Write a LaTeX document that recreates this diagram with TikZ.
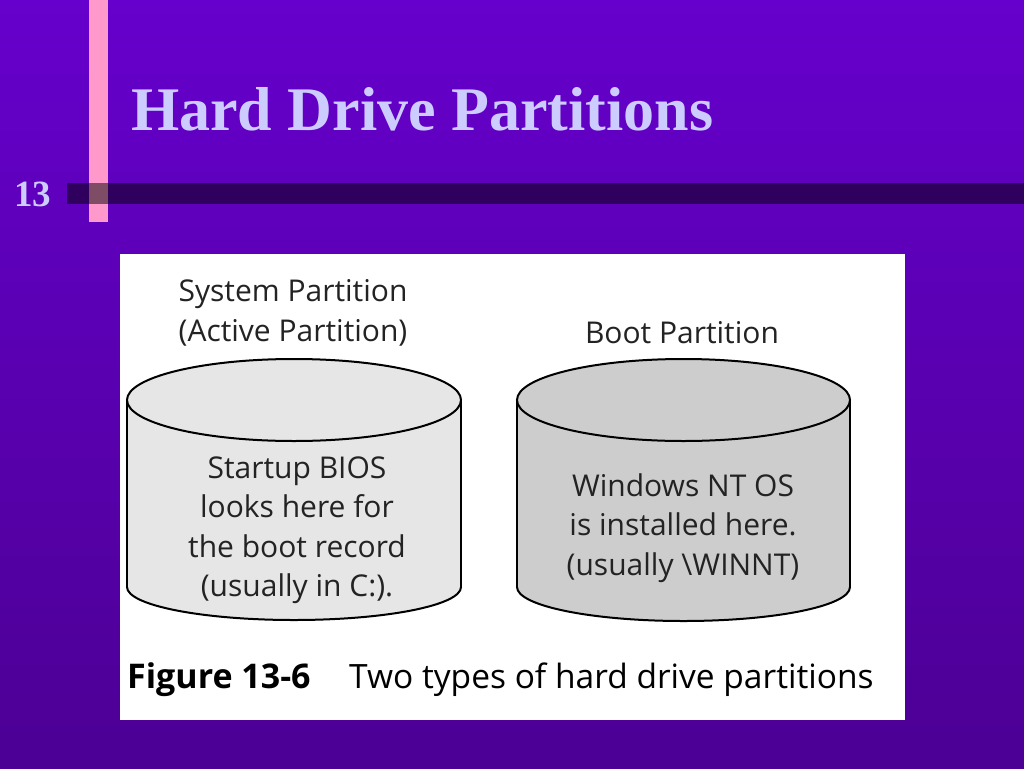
\documentclass[tikz,border=0pt]{standalone}
\usepackage{fontspec}
\setmainfont{Liberation Serif}
\newfontfamily\figfont{Open Sans}
\usetikzlibrary{positioning}
\definecolor{bgtop}{RGB}{102,0,204}
\definecolor{bgbot}{RGB}{76,0,148}
\definecolor{pinkbar}{RGB}{255,153,204}
\definecolor{titlecol}{RGB}{204,204,255}
\definecolor{lightfill}{RGB}{230,230,230}
\definecolor{darkfill}{RGB}{205,205,205}
\definecolor{figtext}{RGB}{35,35,35}
\tikzset{
  titletext/.style={text=titlecol, font=\fontsize{62}{70}\selectfont\bfseries, inner sep=0pt, anchor=base west},
  numtext/.style={text=titlecol, font=\fontsize{37}{40}\selectfont\bfseries, inner sep=0pt, anchor=base west},
  labeltext/.style={text=figtext, font=\figfont\fontsize{30}{39.5}\selectfont, align=center, inner sep=0pt},
  captext/.style={text=black, font=\figfont\fontsize{33.5}{36}\selectfont, inner sep=0pt, anchor=base west},
  capbold/.style={text=black, font=\figfont\fontsize{34}{36}\selectfont\bfseries, inner sep=0pt, anchor=base west},
  cylline/.style={draw=black, line width=2pt},
}
\begin{document}
\begin{tikzpicture}[x=1pt,y=-1pt]
\useasboundingbox (0,0) rectangle (1024,768);
\shade[top color=bgtop, bottom color=bgbot] (0,0) rectangle (1024,768);
% pink bar and dark bar
\fill[pinkbar] (89,0) rectangle (108,222);
\fill[black, opacity=0.5] (67,183) rectangle (1024,204);
\node[numtext] (num) at (14,206) {13};
\node[titletext] (title) at (131,130) {Hard Drive Partitions};
% figure panel
\fill[white] (120,254) rectangle (905,720);
% left cylinder
\fill[lightfill] (127,400) rectangle (461,587);
\fill[lightfill] (294,587) ellipse[x radius=167, y radius=33];
\begin{scope}
\clip (100,587) rectangle (480,640);
\draw[cylline] (294,587) ellipse[x radius=167, y radius=33];
\end{scope}
\draw[cylline] (127,400) -- (127,587);
\draw[cylline] (461,400) -- (461,587);
\draw[cylline, fill=lightfill] (294,400) ellipse[x radius=167, y radius=41];
% right cylinder
\fill[darkfill] (517,400) rectangle (850,587);
\fill[darkfill] (683.5,587) ellipse[x radius=166.5, y radius=34];
\begin{scope}
\clip (490,587) rectangle (880,640);
\draw[cylline] (683.5,587) ellipse[x radius=166.5, y radius=34];
\end{scope}
\draw[cylline] (517,400) -- (517,587);
\draw[cylline] (850,400) -- (850,587);
\draw[cylline, fill=darkfill] (683.5,400) ellipse[x radius=166.5, y radius=41];
% labels
\node[labeltext] (syslabel) at (293,313) {System Partition\\(Active Partition)};
\node[labeltext] (bootlabel) at (682,333) {Boot Partition};
\node[labeltext] (systext) at (297,530) {Startup BIOS\\looks here for\\the boot record\\(usually in C:).};
\node[labeltext] (boottext) at (683,528) {Windows NT OS\\is installed here.\\(usually \textbackslash WINNT)};
% caption
\node[capbold] (capnum) at (127,688) {Figure 13-6};
\node[captext] (captxt) at (349,688) {Two types of hard drive partitions};
\end{tikzpicture}
\end{document}
